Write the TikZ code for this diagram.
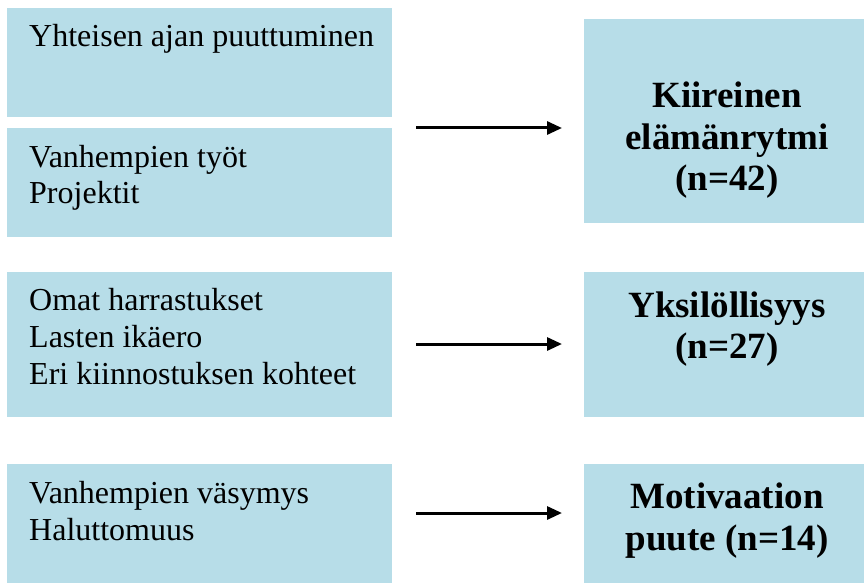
\documentclass[tikz,border=0pt]{standalone}
\usepackage{fontspec}
\setmainfont{Liberation Serif}
\usetikzlibrary{arrows.meta}
\definecolor{boxblue}{HTML}{B7DDE8}
\tikzset{
  boxfill/.style={fill=boxblue, draw=none, inner sep=0pt, anchor=north west},
  lefttext/.style={anchor=base west, inner sep=0pt, font=\fontsize{32}{36.8}\selectfont},
  righttext/.style={anchor=base, inner sep=0pt, font=\fontsize{37}{42}\selectfont\bfseries},
  arr/.style={line width=3pt, -{Triangle[length=15pt,width=13pt]}}
}
\begin{document}
\begin{tikzpicture}[x=1pt,y=-1pt]
\useasboundingbox (0,0) rectangle (864,583);
% left boxes
\node[boxfill, minimum width=385pt, minimum height=109pt] (l1) at (7,8) {};
\node[boxfill, minimum width=385pt, minimum height=109pt] (l2) at (7,128) {};
\node[boxfill, minimum width=385pt, minimum height=145pt] (l3) at (7,272) {};
\node[boxfill, minimum width=385pt, minimum height=125pt] (l4) at (7,464) {};
% right boxes
\node[boxfill, minimum width=290pt, minimum height=204pt] (r1) at (584,19) {};
\node[boxfill, minimum width=290pt, minimum height=145pt] (r2) at (584,272) {};
\node[boxfill, minimum width=290pt, minimum height=125pt] (r3) at (584,464) {};
% left texts
\node[lefttext] (t1) at (29,47) {Yhteisen ajan puuttuminen};
\node[lefttext] (t2a) at (29,167) {Vanhempien työt};
\node[lefttext] (t2b) at (29,203) {Projektit};
\node[lefttext] (t3a) at (29,310) {Omat harrastukset};
\node[lefttext] (t3b) at (29,347) {Lasten ikäero};
\node[lefttext] (t3c) at (29,384) {Eri kiinnostuksen kohteet};
\node[lefttext] (t4a) at (29,503) {Vanhempien väsymys};
\node[lefttext] (t4b) at (29,540) {Haluttomuus};
% right texts
\node[righttext] (s1a) at (727,107) {Kiireinen};
\node[righttext] (s1b) at (727,149) {elämänrytmi};
\node[righttext] (s1c) at (727,190) {(n=42)};
\node[righttext] (s2a) at (727,317) {Yksilöllisyys};
\node[righttext] (s2b) at (727,358) {(n=27)};
\node[righttext] (s3a) at (727,508) {Motivaation};
\node[righttext] (s3b) at (727,550) {puute (n=14)};
% arrows
\coordinate (a1s) at (416,128); \coordinate (a1e) at (562,128);
\coordinate (a2s) at (416,344); \coordinate (a2e) at (562,344);
\coordinate (a3s) at (416,513); \coordinate (a3e) at (562,513);
\draw[arr] (a1s) -- (a1e);
\draw[arr] (a2s) -- (a2e);
\draw[arr] (a3s) -- (a3e);
\end{tikzpicture}
\end{document}
